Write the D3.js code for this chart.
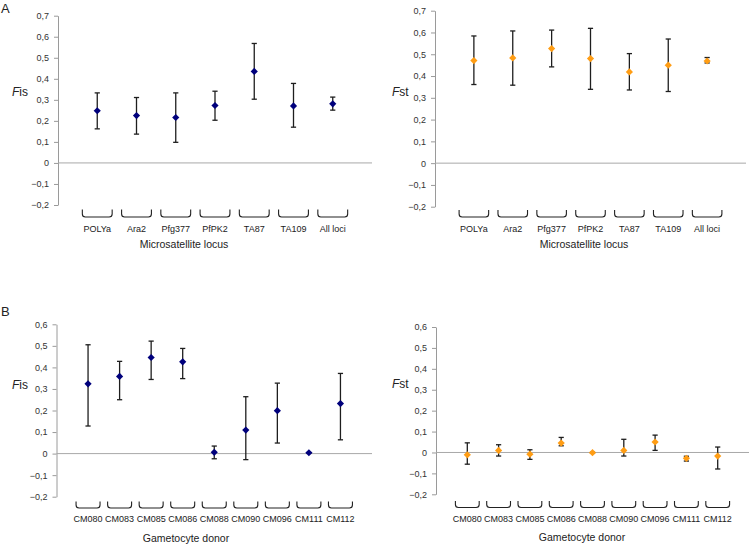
<!DOCTYPE html>
<html>
<head>
<meta charset="utf-8">
<script src="https://cdn.jsdelivr.net/npm/d3@7"></script>
<style>
  body { margin: 0; background: #fff; }
  text { font-family: "Liberation Sans", Arial, sans-serif; fill: #222; }
  .axis path, .axis line { stroke: #9a9a9a; }
  .axis text { font-size: 9px; fill: #333; }
</style>
</head>
<body>
<div id="chart"></div>
<script>
// data
var lociCats = ["POLYa", "Ara2", "Pfg377", "PfPK2", "TA87", "TA109", "All loci"];
var fisLoci = [0.248, 0.225, 0.216, 0.273, 0.435, 0.271, 0.281];
var fisLociLow = [0.162, 0.137, 0.098, 0.203, 0.303, 0.170, 0.251];
var fisLociHigh = [0.333, 0.311, 0.333, 0.341, 0.568, 0.378, 0.313];
var fstLoci = [0.471, 0.483, 0.526, 0.480, 0.419, 0.450, 0.469];
var fstLociLow = [0.361, 0.358, 0.442, 0.339, 0.336, 0.329, 0.460];
var fstLociHigh = [0.584, 0.607, 0.611, 0.619, 0.503, 0.570, 0.485];

var donorCats = ["CM080", "CM083", "CM085", "CM086", "CM088", "CM090", "CM096", "CM111", "CM112"];
var fisDonor = [0.324, 0.358, 0.446, 0.426, 0.006, 0.109, 0.199, 0.004, 0.232];
var fisDonorLow = [0.128, 0.250, 0.344, 0.348, -0.024, -0.028, 0.049, 0.004, 0.064];
var fisDonorHigh = [0.505, 0.428, 0.522, 0.488, 0.035, 0.264, 0.327, 0.004, 0.372];
var fstDonor = [-0.011, 0.010, -0.008, 0.045, -0.001, 0.010, 0.050, -0.028, -0.017];
var fstDonorLow = [-0.056, -0.017, -0.033, 0.032, -0.003, -0.017, 0.010, -0.041, -0.079];
var fstDonorHigh = [0.046, 0.037, 0.013, 0.072, 0.001, 0.063, 0.083, -0.018, 0.026];

var lociTicks = [-0.2, -0.1, 0, 0.1, 0.2, 0.3, 0.4, 0.5, 0.6, 0.7];
var donorTicks = [-0.2, -0.1, 0, 0.1, 0.2, 0.3, 0.4, 0.5, 0.6];

var navy = "#00007c",
  orange = "#ff9d14";

var svg = d3.select("#chart").append("svg")
  .attr("width", 750)
  .attr("height", 544);

svg.append("rect").attr("width", 750).attr("height", 544).attr("fill", "#fff");

function fmt(d) {
  return d === 0 ? "0" : d3.format(".1f")(d).replace(".", ",");
}

function panel(p) {
  var n = p.cats.length;
  var x = d3.scaleLinear().domain([0, n + 1]).range([p.left, p.right]);
  var y = d3.scaleLinear().domain(d3.extent(p.ticks)).range([p.bottom, p.top]);
  var g = svg.append("g");

  g.append("g")
    .attr("class", "axis")
    .attr("transform", "translate(" + p.left + ",0)")
    .call(d3.axisLeft(y).tickValues(p.ticks).tickFormat(fmt).tickSizeInner(4).tickSizeOuter(0).tickPadding(5));

  // zero line
  g.append("line")
    .attr("x1", p.left).attr("x2", p.right)
    .attr("y1", y(0)).attr("y2", y(0))
    .attr("stroke", "#a8a8a8");

  var idx = d3.range(n);
  var step = x(1) - x(0);
  var hw = step * 0.38, r = 3;

  // brackets under each category
  g.selectAll(".brk").data(idx).enter().append("path")
    .attr("fill", "none")
    .attr("stroke", "#222")
    .attr("stroke-width", 1.1)
    .attr("d", function(i) {
      var l = x(i + 1) - hw, rr = x(i + 1) + hw, t = p.bTop, b = p.bBot;
      return "M" + l + "," + t + "L" + l + "," + (b - r) + "Q" + l + "," + b + " " + (l + r) + "," + b +
        "L" + (rr - r) + "," + b + "Q" + rr + "," + b + " " + rr + "," + (b - r) + "L" + rr + "," + t;
    });

  g.selectAll(".cat").data(p.cats).enter().append("text")
    .attr("x", function(d, i) { return x(i + 1); })
    .attr("y", p.labelY)
    .attr("text-anchor", "middle")
    .attr("font-size", "9px")
    .text(function(d) { return d; });

  // error bars
  var eb = g.selectAll(".eb").data(idx).enter().append("g")
    .attr("stroke", "#1e1e1e")
    .attr("stroke-width", 1.3);
  eb.append("line")
    .attr("x1", function(i) { return x(i + 1); })
    .attr("x2", function(i) { return x(i + 1); })
    .attr("y1", function(i) { return y(p.low[i]); })
    .attr("y2", function(i) { return y(p.high[i]); });
  [p.low, p.high].forEach(function(arr) {
    eb.append("line")
      .attr("x1", function(i) { return x(i + 1) - 2.6; })
      .attr("x2", function(i) { return x(i + 1) + 2.6; })
      .attr("y1", function(i) { return y(arr[i]); })
      .attr("y2", function(i) { return y(arr[i]); });
  });

  g.selectAll(".pt").data(idx).enter().append("path")
    .attr("d", "M0,-3.6L3.6,0L0,3.6L-3.6,0Z")
    .attr("fill", p.color)
    .attr("transform", function(i) { return "translate(" + x(i + 1) + "," + y(p.vals[i]) + ")"; });

  var yl = g.append("text")
    .attr("x", p.ylabX)
    .attr("y", p.ylabY)
    .attr("font-size", "12px");
  yl.append("tspan").attr("font-style", "italic").text(p.ylab[0]);
  yl.append("tspan").text(p.ylab[1]);

  g.append("text")
    .attr("x", p.titleX)
    .attr("y", p.titleY)
    .attr("text-anchor", "middle")
    .attr("font-size", "10.5px")
    .text(p.title);
}

panel({
  cats: lociCats, vals: fisLoci, low: fisLociLow, high: fisLociHigh, ticks: lociTicks,
  color: navy, ylab: ["F", "is"], title: "Microsatellite locus",
  left: 58, right: 372, top: 15.7, bottom: 205, bTop: 209.5, bBot: 217,
  labelY: 232, titleX: 184, titleY: 248, ylabX: 12, ylabY: 96
});

panel({
  cats: lociCats, vals: fstLoci, low: fstLociLow, high: fstLociHigh, ticks: lociTicks,
  color: orange, ylab: ["F", "st"], title: "Microsatellite locus",
  left: 435, right: 746, top: 10.7, bottom: 206.7, bTop: 210, bBot: 217,
  labelY: 232, titleX: 584, titleY: 248, ylabX: 392, ylabY: 96
});

panel({
  cats: donorCats, vals: fisDonor, low: fisDonorLow, high: fisDonorHigh, ticks: donorTicks,
  color: navy, ylab: ["F", "is"], title: "Gametocyte donor",
  left: 56.5, right: 372, top: 324.3, bottom: 496.7, bTop: 501.5, bBot: 508,
  labelY: 521.5, titleX: 186, titleY: 541.5, ylabX: 12, ylabY: 389
});

panel({
  cats: donorCats, vals: fstDonor, low: fstDonorLow, high: fstDonorHigh, ticks: donorTicks,
  color: orange, ylab: ["F", "st"], title: "Gametocyte donor",
  left: 436, right: 749, top: 327, bottom: 494.3, bTop: 501, bBot: 507.5,
  labelY: 521.5, titleX: 582, titleY: 541, ylabX: 392, ylabY: 388
});

svg.append("text").attr("x", 1).attr("y", 13).attr("font-size", "13px").text("A");
svg.append("text").attr("x", 1).attr("y", 316).attr("font-size", "13px").text("B");
</script>
</body>
</html>
